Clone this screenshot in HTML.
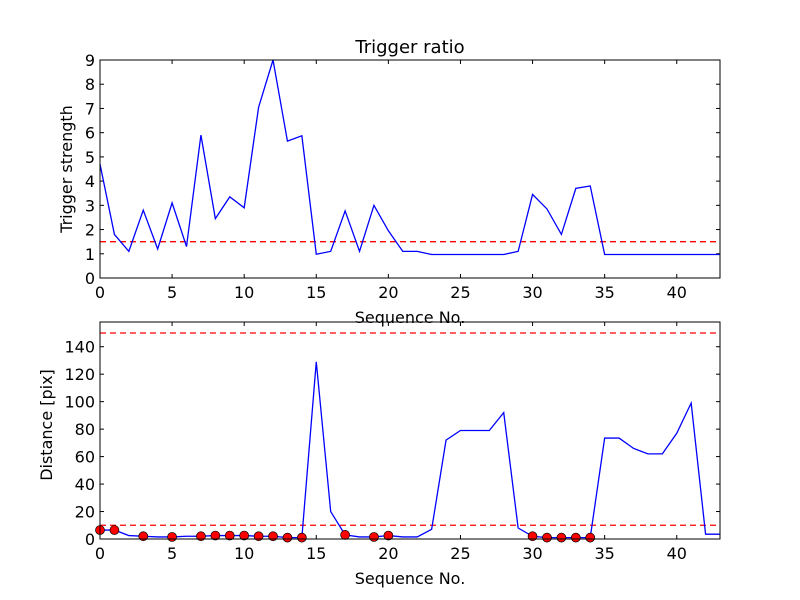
<!DOCTYPE html>
<html><head><meta charset="utf-8"><style>
body{margin:0;background:#fff}
svg{display:block;font-family:"DejaVu Sans","Liberation Sans",sans-serif}
</style></head><body>
<svg id="chart" width="800" height="600"></svg>
<script>
const seqX = [0,1,2,3,4,5,6,7,8,9,10,11,12,13,14,15,16,17,18,19,20,21,22,23,24,25,26,27,28,29,30,31,32,33,34,35,36,37,38,39,40,41,42,43];
const triggerValues = [4.7,1.8,1.1,2.8,1.2,3.1,1.3,5.9,2.45,3.35,2.9,7.05,9,5.65,5.87,0.98,1.1,2.77,1.1,3,1.95,1.1,1.1,0.97,0.97,0.97,0.97,0.97,0.97,1.1,3.45,2.85,1.8,3.7,3.8,0.97,0.97,0.97,0.97,0.97,0.97,0.97,0.97,0.97];
const distanceValues = [6.5,6.5,2.5,2,1.5,1.5,2,2,2.5,2.5,2.5,2,2,1,1,129,20,3,1.5,1.5,2.5,1.5,1.5,7,72,79,79,79,92,8,2,1,1,1,1,73.5,73.5,66,62,62,77,99,3.5,3.5];
const triggerThreshold = 1.5;
const distanceThresholds = [10,150];
const xTicks = [0,5,10,15,20,25,30,35,40];
const topYTicks = [0,1,2,3,4,5,6,7,8,9];
const botYTicks = [0,20,40,60,80,100,120,140];

const NS="http://www.w3.org/2000/svg";
const svg=document.getElementById('chart');
function mk(tag,attrs,parent){const e=document.createElementNS(NS,tag);for(const k in attrs)e.setAttribute(k,attrs[k]);(parent||svg).appendChild(e);return e;}
const L=100,R=720,xMax=43;
const xs=v=>L+(R-L)*v/xMax;
function panel(top,bot,yMax,ticks,name){
  const ys=v=>bot-(bot-top)*v/yMax;
  const g=mk('g',{});
  
  
  for(const t of xTicks){
    mk('line',{x1:xs(t),x2:xs(t),y1:bot,y2:bot-4,stroke:'#000'},g);
    mk('line',{x1:xs(t),x2:xs(t),y1:top,y2:top+4,stroke:'#000'},g);
    const tx=mk('text',{x:xs(t),y:bot+20,'text-anchor':'middle','font-size':16},g);
    tx.textContent=t;
    
    
  }
  for(const t of ticks){
    mk('line',{x1:L,x2:L+4,y1:ys(t),y2:ys(t),stroke:'#000'},g);
    mk('line',{x1:R,x2:R-4,y1:ys(t),y2:ys(t),stroke:'#000'},g);
    const tx=mk('text',{x:L-5,y:ys(t)+6,'text-anchor':'end','font-size':16},g);
    tx.textContent=t;
    
    
  }
  return {g,ys};
}
const p1=panel(60,278,9,topYTicks,'trigger-panel');
let th=mk('line',{x1:L,x2:R,y1:p1.ys(triggerThreshold),y2:p1.ys(triggerThreshold),stroke:'red','stroke-dasharray':'6,4','stroke-width':1.3},p1.g);


let pl=mk('polyline',{points:seqX.map((x,i)=>xs(x)+','+p1.ys(triggerValues[i])).join(' '),fill:'none',stroke:'blue','stroke-width':1.3},p1.g);


mk('rect',{x:L,y:60,width:R-L,height:218,fill:'none',stroke:'#000'},p1.g);
let t=mk('text',{x:410,y:53,'text-anchor':'middle','font-size':18});t.textContent='Trigger ratio';

t=mk('text',{x:0,y:0,'text-anchor':'middle','font-size':16,transform:'translate(72,169) rotate(-90)'});t.textContent='Trigger strength';

t=mk('text',{x:410,y:323,'text-anchor':'middle','font-size':16});t.textContent='Sequence No.';

const p2=panel(322,539,158,botYTicks,'distance-panel');
for(const d of distanceThresholds){
  const l=mk('line',{x1:L,x2:R,y1:p2.ys(d),y2:p2.ys(d),stroke:'red','stroke-dasharray':'6,4','stroke-width':1.3},p2.g);
  
  
}
pl=mk('polyline',{points:seqX.map((x,i)=>xs(x)+','+p2.ys(distanceValues[i])).join(' '),fill:'none',stroke:'blue','stroke-width':1.3},p2.g);


seqX.forEach((x,i)=>{
  if(triggerValues[i]>triggerThreshold){
    const c=mk('circle',{cx:xs(x),cy:p2.ys(distanceValues[i]),r:4.5,fill:'red',stroke:'#000','stroke-width':0.7},p2.g);
    
    
  }
});
mk('rect',{x:L,y:322,width:R-L,height:217,fill:'none',stroke:'#000'},p2.g);
t=mk('text',{x:0,y:0,'text-anchor':'middle','font-size':16,transform:'translate(52,425) rotate(-90)'});t.textContent='Distance [pix]';

t=mk('text',{x:410,y:584,'text-anchor':'middle','font-size':16});t.textContent='Sequence No.';

</script>
</body></html>
